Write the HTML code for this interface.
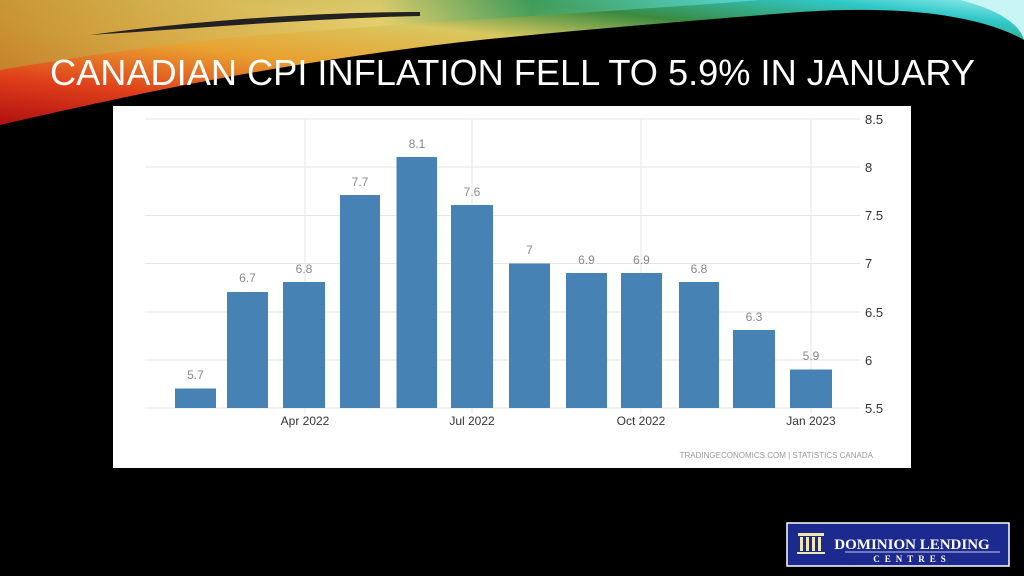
<!DOCTYPE html>
<html><head><meta charset="utf-8"><style>
html,body{margin:0;padding:0;background:#000;width:1024px;height:576px;overflow:hidden}
svg{display:block}
</style></head><body>
<svg width="1024" height="576" viewBox="0 0 1024 576" xmlns="http://www.w3.org/2000/svg">
<defs>
<linearGradient id="sw" x1="0" y1="1" x2="1" y2="0">
<stop offset="0" stop-color="#b01010"/>
<stop offset="0.2" stop-color="#e0401a"/>
<stop offset="0.4" stop-color="#e8a030"/>
<stop offset="0.6" stop-color="#d8c860"/>
<stop offset="0.75" stop-color="#3a8a40"/>
<stop offset="0.9" stop-color="#30c8c8"/>
<stop offset="1" stop-color="#a0f0f0"/>
</linearGradient>
<linearGradient id="sw2" x1="0" y1="0" x2="1" y2="0">
<stop offset="0" stop-color="#c09030"/>
<stop offset="0.5" stop-color="#e8d070"/>
<stop offset="0.7" stop-color="#40a060"/>
<stop offset="1" stop-color="#60e0e0"/>
</linearGradient>
</defs>
<rect width="1024" height="576" fill="#000"/>
<path d="M0 0 H1024 V40 C980 15 900 5 800 12 C700 20 600 28 480 40 C300 60 150 90 0 125 Z" fill="url(#sw)"/>
<path d="M0 0 H760 C640 10 450 20 260 35 C150 45 60 60 0 70 Z" fill="url(#sw2)" opacity="0.8"/>
<path d="M90 35 C200 20 320 12 420 12 L420 16 C320 18 200 28 90 35 Z" fill="#222"/>
<path d="M960 0 C1000 10 1020 25 1024 40 V0 Z" fill="#c8f4f4"/>
<text x="50" y="85" font-family="Liberation Sans, sans-serif" font-size="36" fill="#fff" textLength="925" lengthAdjust="spacingAndGlyphs">CANADIAN CPI INFLATION FELL TO 5.9% IN JANUARY</text>

<rect x="113" y="106" width="798" height="362" fill="#fff"/>
<g stroke="#e6e6e6" stroke-width="1">
<line x1="145" x2="860" y1="119" y2="119"/>
<line x1="145" x2="860" y1="167" y2="167"/>
<line x1="145" x2="860" y1="215.5" y2="215.5"/>
<line x1="145" x2="860" y1="263.5" y2="263.5"/>
<line x1="145" x2="860" y1="312" y2="312"/>
<line x1="145" x2="860" y1="360" y2="360"/>
<line x1="145" x2="860" y1="408" y2="408"/>
<line x1="305" x2="305" y1="119" y2="413"/>
<line x1="472" x2="472" y1="119" y2="413"/>
<line x1="641" x2="641" y1="119" y2="413"/>
<line x1="811" x2="811" y1="119" y2="413"/>
</g>
<g fill="#4682b4">
<rect x="175" y="388.5" width="41" height="19.5"/>
<rect x="227" y="292" width="41" height="116"/>
<rect x="283" y="282" width="42" height="126"/>
<rect x="340" y="195" width="40" height="213"/>
<rect x="396.5" y="157" width="40.5" height="251"/>
<rect x="451" y="205" width="42" height="203"/>
<rect x="509" y="263.5" width="41" height="144.5"/>
<rect x="566" y="273" width="41" height="135"/>
<rect x="621" y="273" width="41" height="135"/>
<rect x="679" y="282" width="40" height="126"/>
<rect x="733" y="330" width="42" height="78"/>
<rect x="790" y="369.5" width="42" height="38.5"/>
</g>
<g font-family="Liberation Sans, sans-serif" font-size="12" fill="#888" text-anchor="middle">
<text x="195.5" y="379">5.7</text>
<text x="247.5" y="282">6.7</text>
<text x="304" y="273">6.8</text>
<text x="360" y="186">7.7</text>
<text x="417" y="148">8.1</text>
<text x="472" y="196">7.6</text>
<text x="529.5" y="254">7</text>
<text x="586.5" y="264">6.9</text>
<text x="641.5" y="264">6.9</text>
<text x="699" y="273">6.8</text>
<text x="754" y="321">6.3</text>
<text x="811" y="360">5.9</text>
</g>
<g font-family="Liberation Sans, sans-serif" font-size="12" fill="#333" text-anchor="middle">
<text x="305" y="425">Apr 2022</text>
<text x="472" y="425">Jul 2022</text>
<text x="641" y="425">Oct 2022</text>
<text x="811" y="425">Jan 2023</text>
</g>
<g font-family="Liberation Sans, sans-serif" font-size="13" fill="#333">
<text x="865" y="124">8.5</text>
<text x="865" y="172">8</text>
<text x="865" y="220">7.5</text>
<text x="865" y="268">7</text>
<text x="865" y="317">6.5</text>
<text x="865" y="365">6</text>
<text x="865" y="413">5.5</text>
</g>
<text x="873" y="458" font-family="Liberation Sans, sans-serif" font-size="8" fill="#999" text-anchor="end">TRADINGECONOMICS.COM  |  STATISTICS CANADA</text>

<rect x="787" y="523" width="222" height="43" fill="#1c2a90" stroke="#fff" stroke-width="1.5"/>
<g fill="#f0e6b0">
<rect x="798" y="533" width="26" height="3"/>
<rect x="800" y="537" width="3" height="14"/>
<rect x="806" y="537" width="3" height="14"/>
<rect x="812" y="537" width="3" height="14"/>
<rect x="818" y="537" width="3" height="14"/>
<rect x="797" y="552" width="28" height="2"/>
</g>
<text x="912" y="549" font-family="Liberation Serif, serif" font-size="15" font-weight="bold" fill="#fff" text-anchor="middle">DOMINION LENDING</text>
<line x1="845" x2="1000" y1="552" y2="552" stroke="#fff" stroke-width="0.8"/>
<text x="912" y="562" font-family="Liberation Serif, serif" font-size="9" font-weight="bold" fill="#fff" text-anchor="middle" letter-spacing="5">CENTRES</text>
</svg>
</body></html>
